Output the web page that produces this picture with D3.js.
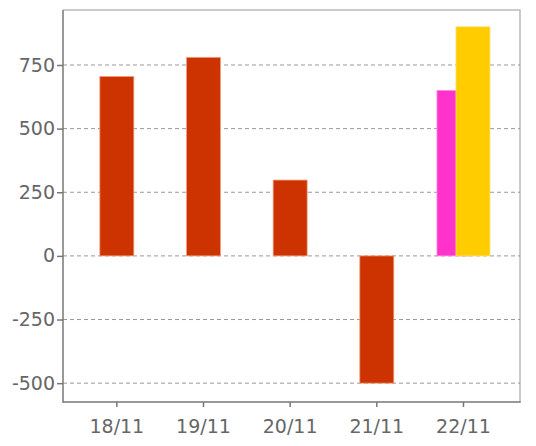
<!DOCTYPE html>
<html><head><meta charset="utf-8">
<script src="https://cdn.jsdelivr.net/npm/d3@7"></script>
<style>body{margin:0;background:#fff;} svg{display:block;}</style>
</head><body>
<script>
const categories = ["18/11","19/11","20/11","21/11","22/11"];
const seriesA = [705, 780, 298, -500, 650];   // red bars, last one pink
const seriesB = [null, null, null, null, 900]; // yellow bar on 22/11
const yTicks = [-500, -250, 0, 250, 500, 750];

(function(){
const W = 536, H = 446;
const pl = 63, pr = 520, pt = 10, pb = 402;
const svg = d3.select("body").append("svg").attr("width", W).attr("height", H);

const y = d3.scaleLinear().domain([-574, 966]).range([pb, pt]);
const x = d3.scaleBand().domain(categories).range([73.5, 506.8]).paddingInner(0).paddingOuter(0);
const bw = 34;

// border top/right
svg.append("path").attr("d", `M${pl},${pt}H${pr}V${pb}`).attr("fill","none").attr("stroke","#bbb").attr("stroke-width",1.5);

// grid
svg.append("g").selectAll("line").data(yTicks).join("line")
  .attr("x1", pl).attr("x2", pr)
  .attr("y1", d => y(d)).attr("y2", d => y(d))
  .attr("stroke", "#999").attr("stroke-dasharray", "4,3").attr("stroke-width", 1);

// bars
const colorsA = ["#cc3300","#cc3300","#cc3300","#cc3300","#ff33cc"];
const offA = [0,0,0,0,-9.5];
svg.append("g").selectAll("rect").data(seriesA).join("rect")
  .attr("x", (d,i) => x(categories[i]) + x.bandwidth()/2 - bw/2 + offA[i])
  .attr("width", bw)
  .attr("y", d => y(Math.max(0,d)))
  .attr("height", d => Math.abs(y(d) - y(0)))
  .attr("fill", (d,i) => colorsA[i])
  .attr("stroke", (d,i) => i===4 ? "#ff88e0" : "#f0a080").attr("stroke-width", 0.8);

svg.append("g").selectAll("rect").data(seriesB.map((v,i)=>({v,i})).filter(d=>d.v!=null)).join("rect")
  .attr("x", d => x(categories[d.i]) + x.bandwidth()/2 - bw/2 + 9.5)
  .attr("width", bw)
  .attr("y", d => y(Math.max(0,d.v)))
  .attr("height", d => Math.abs(y(d.v) - y(0)))
  .attr("fill", "#ffcc00")
  .attr("stroke", "#ffe070").attr("stroke-width", 0.8);

// axes
const yAxis = svg.append("g").attr("transform", `translate(${pl},0)`)
  .call(d3.axisLeft(y).tickValues(yTicks).tickSize(6).tickPadding(2).tickFormat(d => String(d)));
const xAxis = svg.append("g").attr("transform", `translate(0,${pb})`)
  .call(d3.axisBottom(x).tickSize(5).tickPadding(13));
[yAxis, xAxis].forEach(g => {
  g.select(".domain").remove();
  g.selectAll(".tick line").attr("stroke", "#777").attr("stroke-width", 1.5);
  g.selectAll("text").attr("fill", "#666").attr("font-family", "DejaVu Sans, sans-serif").attr("font-size", 19);
});
svg.append("line").attr("x1", pl).attr("x2", pl).attr("y1", pt).attr("y2", pb+0.75).attr("stroke","#777").attr("stroke-width",1.5);
svg.append("line").attr("x1", pl).attr("x2", pr+0.75).attr("y1", pb).attr("y2", pb).attr("stroke","#777").attr("stroke-width",1.5);
})();
</script>
</body></html>
